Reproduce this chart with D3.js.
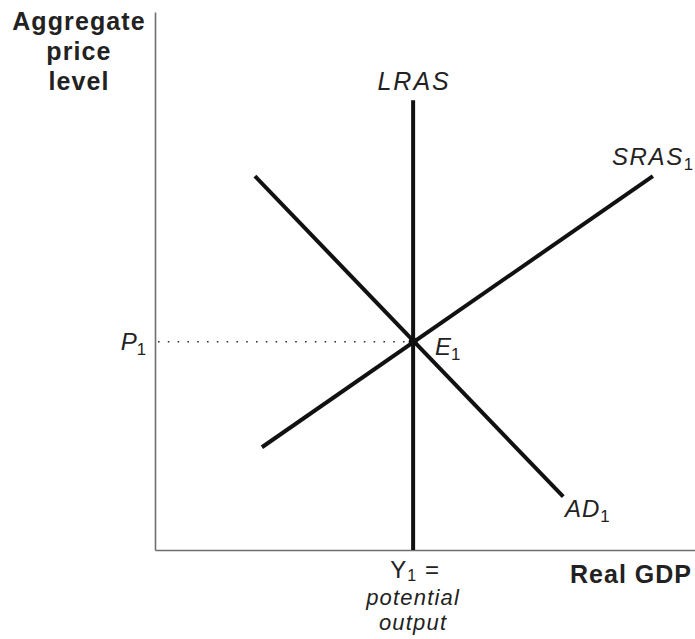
<!DOCTYPE html>
<html>
<head>
<meta charset="utf-8">
<script src="https://cdn.jsdelivr.net/npm/d3@7"></script>
<style>
  html, body { margin: 0; padding: 0; background: #fff; }
  svg { display: block; }
  text { font-family: "Liberation Sans", Arial, sans-serif; fill: #222; }
</style>
</head>
<body>
<svg id="chart" width="695" height="639"></svg>
<script>
// ---- data (model units 0..100 on both axes) ----
const curveNames = ["LRAS", "SRAS", "AD"];
const curveX = [[47.8, 47.8], [19.8, 92.2], [18.5, 75.6]];
const curveY = [[0, 83.6], [19.1, 69.5], [69.5, 9.9]];
const equilibrium = { x: 47.8, y: 38.7 };
const axisLabels = { x: "Real GDP", y: ["Aggregate", "price", "level"] };

const svg = d3.select("#chart");
const x = d3.scaleLinear().domain([0, 100]).range([155, 695]);
const y = d3.scaleLinear().domain([0, 100]).range([550, 12]);

// axes (plain lines, no ticks)
svg.append("g").attr("transform", `translate(0,${y(0)})`)
  .call(d3.axisBottom(x).tickValues([]).tickSizeOuter(0))
  .call(g => g.select(".domain").attr("stroke", "#6f6f6f").attr("stroke-width", 1.6));
svg.append("g").attr("transform", `translate(${x(0)},0)`)
  .call(d3.axisLeft(y).tickValues([]).tickSizeOuter(0))
  .call(g => g.select(".domain").attr("stroke", "#6f6f6f").attr("stroke-width", 1.6));

// dotted guide to P1
svg.append("line")
  .attr("x1", x(0) + 3).attr("x2", x(equilibrium.x))
  .attr("y1", y(equilibrium.y)).attr("y2", y(equilibrium.y))
  .attr("stroke", "#333").attr("stroke-width", 1.6)
  .attr("stroke-dasharray", "1.6,8.2");

// curves
const line = d3.line().x(d => x(d[0])).y(d => y(d[1]));
curveNames.forEach((n, i) => {
  const pts = curveX[i].map((xv, j) => [xv, curveY[i][j]]);
  svg.append("path").attr("d", line(pts))
    .attr("fill", "none").attr("stroke", "#111")
    .attr("stroke-width", 4).attr("stroke-linecap", "butt");
});

svg.append("circle").attr("cx", x(equilibrium.x)).attr("cy", y(equilibrium.y))
  .attr("r", 4.5).attr("fill", "#111");

// helper for label with subscript
function label(tx, ty, main, sub, opts = {}) {
  const size = opts.size || 24;
  const t = svg.append("text").attr("x", tx).attr("y", ty)
    .attr("font-size", size)
    .attr("font-style", "italic")
    .attr("letter-spacing", opts.ls || 0)
    .attr("text-anchor", opts.anchor || "start");
  t.append("tspan").text(main);
  if (sub) t.append("tspan").attr("font-size", size * 0.7).attr("font-style", "normal")
    .attr("dy", 5).text(sub);
  return t;
}

label(x(equilibrium.x) + 1, 90, "LRAS", null, { anchor: "middle", size: 25, ls: 2 });
label(612, 165, "SRAS", "1", { size: 24, ls: 1.6 });
label(565, 517, "AD", "1", { size: 24, ls: 1 });
label(435, 355, "E", "1", { size: 24 });
label(146, 350, "P", "1", { size: 24, anchor: "end" });

// Y1 = potential output
const yt = svg.append("text").attr("x", x(equilibrium.x) + 2).attr("y", 578)
  .attr("text-anchor", "middle").attr("font-size", 24).attr("letter-spacing", 1);
yt.append("tspan").text("Y");
yt.append("tspan").attr("font-size", 16).attr("dy", 3).text("1");
yt.append("tspan").attr("dy", -3).text(" =");
svg.append("text").attr("x", x(equilibrium.x)).attr("y", 605)
  .attr("text-anchor", "middle").attr("font-size", 22).attr("letter-spacing", 1.2)
  .attr("font-style", "italic").text("potential");
svg.append("text").attr("x", x(equilibrium.x)).attr("y", 630)
  .attr("text-anchor", "middle").attr("font-size", 22).attr("letter-spacing", 1.2)
  .attr("font-style", "italic").text("output");

// axis titles
svg.append("text").attr("x", 692).attr("y", 583).attr("text-anchor", "end")
  .attr("font-size", 25).attr("font-weight", "bold").attr("letter-spacing", 1).text(axisLabels.x);
axisLabels.y.forEach((s, i) => {
  svg.append("text").attr("x", 79).attr("y", 30 + i * 30).attr("text-anchor", "middle")
    .attr("font-size", 25).attr("font-weight", "bold").attr("letter-spacing", 1.1).text(s);
});
</script>
</body>
</html>
